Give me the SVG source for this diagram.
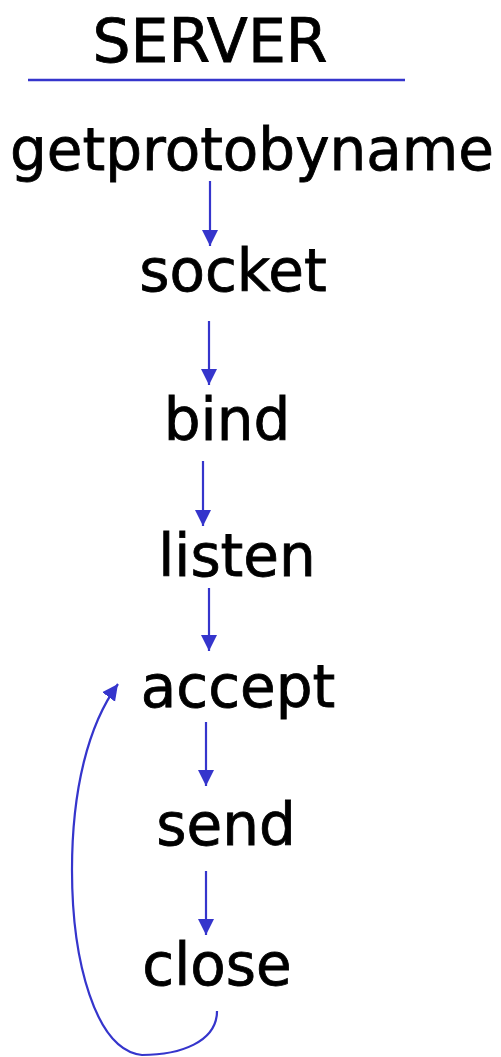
<svg xmlns="http://www.w3.org/2000/svg" width="501" height="1057" viewBox="0 0 501 1057">
<style>
.t{font-family:"DejaVu Sans",sans-serif;font-size:58px;fill:#000;text-anchor:middle;stroke:#000;stroke-width:0.8}
.c{stroke:#3535cc;stroke-width:2.2;fill:none}
</style>
<defs>
<marker id="ah" markerUnits="userSpaceOnUse" markerWidth="18" markerHeight="18" refX="16" refY="8" orient="auto" viewBox="0 0 18 16">
<path d="M0,0 L16,8 L0,16 z" fill="#3535cc"/>
</marker>
</defs>
<rect width="501" height="1057" fill="#fff"/>
<g id="title">
<text class="t" x="210" y="62" style="font-size:60px">SERVER</text>
<line x1="28" y1="80" x2="405" y2="80" stroke="#3535cc" stroke-width="2.5"/>
</g>
<g id="getprotobyname"><text class="t" x="252" y="170">getprotobyname</text></g>
<g id="socket"><text class="t" x="233" y="291">socket</text></g>
<g id="bind"><text class="t" x="227" y="440">bind</text></g>
<g id="listen"><text class="t" x="237" y="576">listen</text></g>
<g id="accept"><text class="t" x="238" y="707">accept</text></g>
<g id="send"><text class="t" x="226" y="845">send</text></g>
<g id="close"><text class="t" x="217" y="985">close</text></g>
<g id="connectors">
<line class="c" x1="210" y1="181" x2="210" y2="246" marker-end="url(#ah)"/>
<line class="c" x1="209" y1="321" x2="209" y2="385" marker-end="url(#ah)"/>
<line class="c" x1="203" y1="461" x2="203" y2="526" marker-end="url(#ah)"/>
<line class="c" x1="209" y1="588" x2="209" y2="651" marker-end="url(#ah)"/>
<line class="c" x1="206" y1="722" x2="206" y2="786" marker-end="url(#ah)"/>
<line class="c" x1="206" y1="871" x2="206" y2="935" marker-end="url(#ah)"/>
<path class="c" d="M217,1011 C217,1042 180,1055 142,1055 C95,1050 72,960 72,870 C72,790 88,725 118,684" marker-end="url(#ah)"/>
</g>
</svg>
